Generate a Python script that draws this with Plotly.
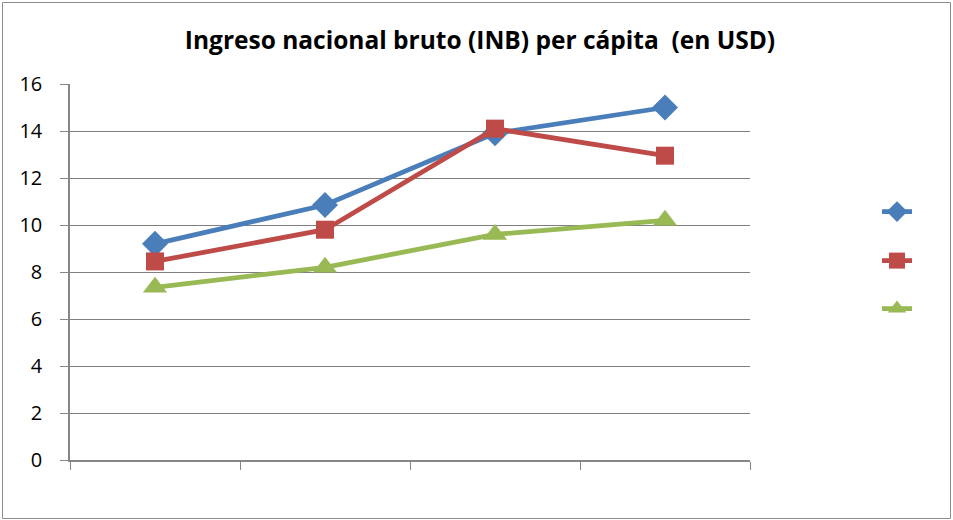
import plotly.graph_objects as go

categories = ["1", "2", "3", "4"]
serie_1 = [9.2, 10.85, 13.9, 15.0]
serie_2 = [8.45, 9.8, 14.1, 12.95]
serie_3 = [7.35, 8.2, 9.6, 10.2]
y_ticks = [0, 2, 4, 6, 8, 10, 12, 14, 16]
title_text = "Ingreso nacional bruto (INB) per cápita  (en USD)"

W, H = 953, 520
L, R, T, B = 70, 203, 84, 60
pw, ph = W - L - R, H - T - B

def px_x(p):
    return (p - L) / pw

def px_y(p):
    return (H - B - p) / ph

fig = go.Figure()
specs = [
    (serie_1, "#4A7EBB", "diamond", 20, "legend"),
    (serie_2, "#BE4B48", "square", 18, "legend2"),
    (serie_3, "#98B954", "triangle-up", 21, "legend3"),
]
for vals, col, sym, ms, lg in specs:
    fig.add_trace(go.Scatter(
        x=categories, y=vals, mode="lines+markers", name=" ",
        line=dict(color=col, width=4.8),
        marker=dict(symbol=sym, size=ms, color=col),
        legend=lg, showlegend=True,
    ))

leg_common = dict(bgcolor="rgba(0,0,0,0)", font=dict(size=14, family="Open Sans"),
                  xanchor="left", yanchor="middle", itemwidth=30)
fig.update_layout(
    width=W, height=H,
    margin=dict(l=L, r=R, t=T, b=B),
    paper_bgcolor="white", plot_bgcolor="white",
    font=dict(family="Open Sans", color="black"),
    title=dict(text="<b>" + title_text + "</b>", x=480 / W, xanchor="center",
               y=1 - 40 / H, yanchor="middle", font=dict(size=24.5, family="Open Sans")),
    legend=dict(x=px_x(877), y=px_y(212), **leg_common),
    legend2=dict(x=px_x(877), y=px_y(261), **leg_common),
    legend3=dict(x=px_x(877), y=px_y(309), **leg_common),
    showlegend=True,
    xaxis=dict(type="category", range=[-0.5, 3.5], showticklabels=False,
               ticks="outside", tickson="boundaries", ticklen=8, tickcolor="#868686",
               showline=True, linecolor="#868686", linewidth=1.5, showgrid=False,
               zeroline=False),
    yaxis=dict(range=[0, 16], tickvals=y_ticks, ticks="outside", ticklen=8,
               tickcolor="#868686", showline=True, linecolor="#868686", linewidth=1.5,
               showgrid=True, gridcolor="#7F7F7F", gridwidth=1.4, zeroline=False,
               tickfont=dict(size=20, family="Open Sans", color="black"),
               ticklabelstandoff=14),
    shapes=[dict(type="rect", xref="paper", yref="paper",
                 x0=px_x(2.5), x1=px_x(950.5), y0=px_y(518.5), y1=px_y(2.5),
                 line=dict(color="#8C8C8C", width=1), fillcolor="rgba(0,0,0,0)",
                 layer="below")],
)

fig.write_html("out.html", config={"displayModeBar": False},
               post_script="document.body.style.margin='0';document.body.style.overflow='hidden';")
